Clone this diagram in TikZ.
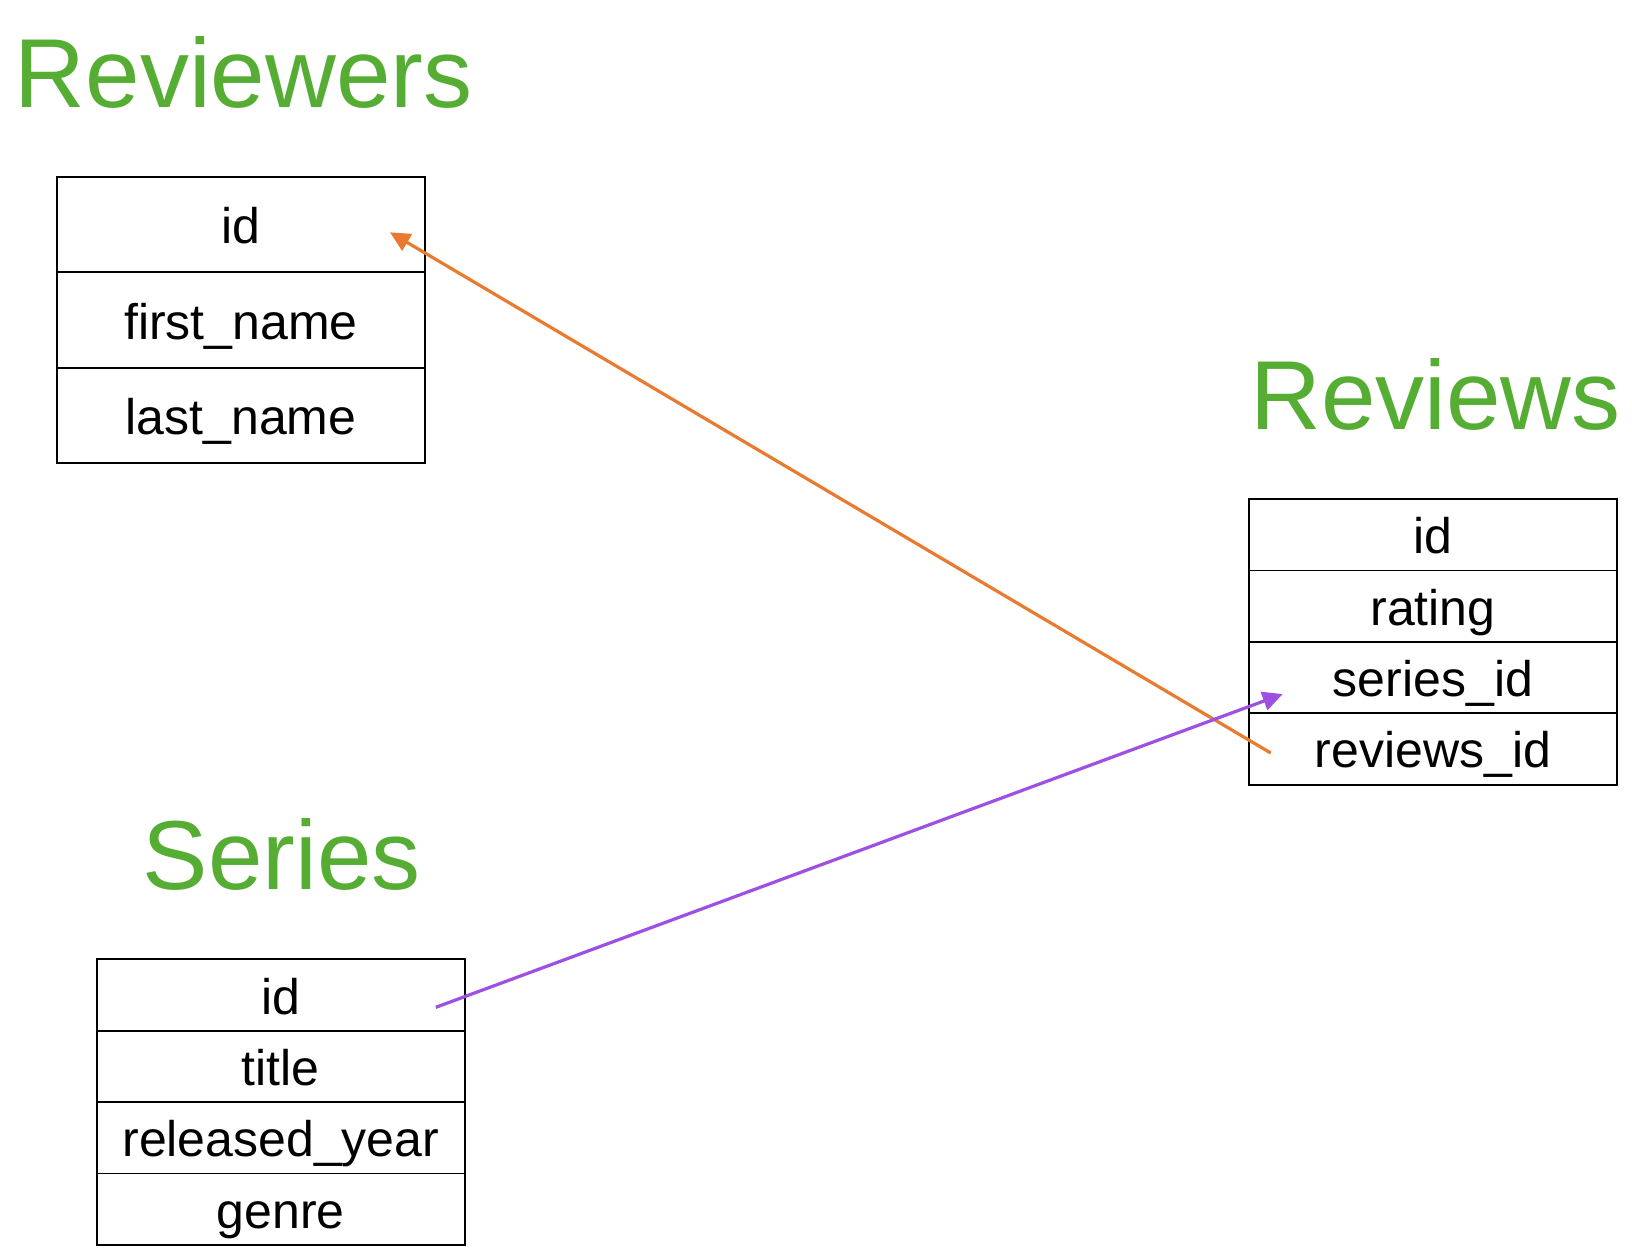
\documentclass[tikz,border=0pt]{standalone}
\usepackage{fontspec}
\setmainfont{Liberation Sans}
\usepackage{xcolor}
\usetikzlibrary{arrows.meta,positioning,calc}

\definecolor{titlegreen}{RGB}{86,173,51}
\definecolor{fkorange}{RGB}{232,123,48}
\definecolor{fkpurple}{RGB}{157,80,226}

\begin{document}
\begin{tikzpicture}[x=0.5pt,y=-0.5pt,
  cell/.style={draw,line width=0.9pt,minimum width=184pt,inner sep=0pt,outer sep=0pt,
    text height=19pt,text depth=0pt,font=\fontsize{25}{30}\selectfont},
  tallcell/.style={cell,minimum height=47.65pt},
  shortcell/.style={cell,minimum height=35.7pt},
  tabletitle/.style={anchor=base,text=titlegreen,inner sep=0pt,
    font=\fontsize{49}{58}\selectfont},
  fk/.style={line width=1.6pt,-{Triangle[length=10pt,width=9.5pt]}}]
\useasboundingbox (0,0) rectangle (1632,1250);
% Reviewers table
\node[tabletitle] (rwtitle) at (243.5,107) {Reviewers};
\node[tallcell] (rw1) at (241,224.7) {id};
\node[tallcell,below=0pt of rw1] (rw2) {first\_name};
\node[tallcell,below=0pt of rw2] (rw3) {last\_name};
% Reviews table
\node[tabletitle] (rvtitle) at (1435.5,429) {Reviews};
\node[shortcell] (rv1) at (1433,534.75) {id};
\node[shortcell,below=0pt of rv1] (rv2) {rating};
\node[shortcell,below=0pt of rv2] (rv3) {series\_id};
\node[shortcell,below=0pt of rv3] (rv4) {reviews\_id};
% Series table
\node[tabletitle] (stitle) at (281.8,889.3) {Series};
\node[shortcell] (s1) at (280.8,995) {id};
\node[shortcell,below=0pt of s1] (s2) {title};
\node[shortcell,below=0pt of s2] (s3) {released\_year};
\node[shortcell,below=0pt of s3] (s4) {genre};
% foreign keys
\coordinate (rwid) at ($(rw1.east)+(-35,7.6)$);
\coordinate (rvrid) at ($(rv4.west)+(21.7,4)$);
\coordinate (sid) at ($(s1.east)+(-29,12.3)$);
\coordinate (rvsid) at ($(rv3.west)+(33.7,16.5)$);
\draw[fk,fkorange] (rvrid) -- (rwid);
\draw[fk,fkpurple] (sid) -- (rvsid);
\end{tikzpicture}
\end{document}
